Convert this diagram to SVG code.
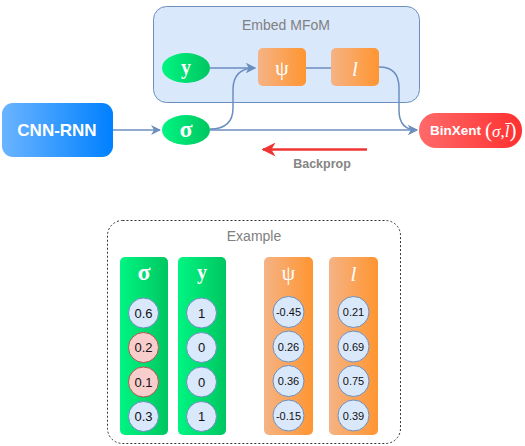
<svg xmlns="http://www.w3.org/2000/svg" width="525" height="446" viewBox="0 0 525 446">
<defs>
<linearGradient id="gGreen" x1="0" y1="0" x2="1" y2="0"><stop offset="0" stop-color="#00f582"/><stop offset="1" stop-color="#00c660"/></linearGradient>
<linearGradient id="gOrange" x1="0" y1="0" x2="1" y2="0"><stop offset="0" stop-color="#f5b385"/><stop offset="1" stop-color="#ff9530"/></linearGradient>
<linearGradient id="gBlue" x1="0" y1="0" x2="1" y2="0"><stop offset="0" stop-color="#6ab4ff"/><stop offset="1" stop-color="#0080ff"/></linearGradient>
<linearGradient id="gRed" x1="0" y1="0" x2="1" y2="0"><stop offset="0" stop-color="#ff6a6a"/><stop offset="1" stop-color="#ff3030"/></linearGradient>
<marker id="arrB" viewBox="0 0 10 10" refX="9" refY="5" markerWidth="10" markerHeight="10" markerUnits="userSpaceOnUse" orient="auto"><path d="M0,0 L10,5 L0,10 L3,5 Z" fill="#6c8ebf"/></marker>
<marker id="arrR" viewBox="0 0 10 10" refX="9" refY="5" markerWidth="14" markerHeight="14" markerUnits="userSpaceOnUse" orient="auto"><path d="M0,0 L10,5 L0,10 L3,5 Z" fill="#f03434"/></marker>
</defs>
<style>
.lbl{font-family:"Liberation Sans",Arial,sans-serif;fill:#808080;font-size:14px;text-anchor:middle}
.wb{font-family:"Liberation Sans",Arial,sans-serif;fill:#fff;font-weight:bold;text-anchor:middle}
.gr{font-family:"Liberation Serif","DejaVu Serif",serif;fill:#fff;text-anchor:middle}
.edge{fill:none;stroke:#6c8ebf;stroke-width:1.5}
.cb{fill:#dae8fc;stroke:#6c8ebf;stroke-width:1}
.cr{fill:#f8cecc;stroke:#b85450;stroke-width:1}
.num{font-family:"Liberation Sans",Arial,sans-serif;fill:#111;font-size:13px;text-anchor:middle}
.num2{font-family:"Liberation Sans",Arial,sans-serif;fill:#111;font-size:11px;text-anchor:middle}
</style>
<g id="embed-mfom">
<rect x="153.5" y="6.5" width="266" height="96" rx="13" fill="#dae8fc" stroke="#6c8ebf" stroke-width="1"/>
<text class="lbl" x="286" y="30">Embed MFoM</text>
</g>
<g id="connectors">
<path class="edge" d="M113,130 L160,130" marker-end="url(#arrB)"/>
<path class="edge" d="M210,68 L255,68" marker-end="url(#arrB)"/>
<path class="edge" d="M210,129 Q233,129 233,108 L233,90 Q233,68 255,68" marker-end="url(#arrB)"/>
<path class="edge" d="M305,68 L331,68"/>
<path class="edge" d="M210,130 L417,130" marker-end="url(#arrB)"/>
<path class="edge" d="M379,67 Q399,67 399,88 L399,110 Q399,130 417,130" marker-end="url(#arrB)"/>
<path d="M367,149.5 L263,149.5" fill="none" stroke="#f03434" stroke-width="2.5" marker-end="url(#arrR)"/>
<text x="322" y="168" font-family="Liberation Sans,Arial,sans-serif" font-size="12.5" font-weight="bold" fill="#858585" text-anchor="middle">Backprop</text>
</g>
<g id="cnn-rnn">
<rect x="2" y="103" width="111" height="54" rx="11" fill="url(#gBlue)"/>
<text class="wb" x="57" y="136" font-size="17">CNN-RNN</text>
</g>
<g id="node-y">
<ellipse cx="186" cy="68" rx="24" ry="15" fill="url(#gGreen)"/>
<text class="gr" x="186" y="74" font-size="20" font-weight="bold">y</text>
</g>
<g id="node-sigma">
<ellipse cx="186" cy="130" rx="24" ry="15" fill="url(#gGreen)"/>
<text class="gr" x="186" y="137" font-size="24" font-weight="bold">σ</text>
</g>
<g id="node-psi">
<rect x="258" y="48" width="48" height="38" rx="5" fill="url(#gOrange)"/>
<text class="gr" x="282" y="75" font-size="22">ψ</text>
</g>
<g id="node-l">
<rect x="331" y="48" width="48" height="38" rx="5" fill="url(#gOrange)"/>
<text class="gr" x="355" y="76" font-size="21" font-style="italic">l</text>
</g>
<g id="binxent">
<rect x="419" y="113" width="103" height="35" rx="17" fill="url(#gRed)"/>
<text class="wb" x="430" y="135" font-size="13.5" style="text-anchor:start">BinXent</text>
<text x="485" y="136.5" font-family="Liberation Serif,serif" font-size="17" fill="#fff"><tspan font-size="21">(</tspan><tspan font-style="italic">σ</tspan>,<tspan font-style="italic">l̄</tspan><tspan font-size="21">)</tspan></text>
</g>
<g id="example">
<rect x="107.5" y="220.5" width="293" height="223" rx="15" fill="none" stroke="#333" stroke-width="1" stroke-dasharray="2 2"/>
<text class="lbl" x="254" y="241">Example</text>
</g>
<g id="col-sigma">
<rect x="120" y="257" width="48" height="178" rx="5" fill="url(#gGreen)"/>
<text class="gr" x="144" y="280" font-size="24" font-weight="bold">σ</text>
<circle class="cb" cx="143.5" cy="313" r="15"/><text class="num" x="143.5" y="317.5">0.6</text>
<circle class="cr" cx="143.5" cy="347.5" r="15"/><text class="num" x="143.5" y="352">0.2</text>
<circle class="cr" cx="143.5" cy="382" r="15"/><text class="num" x="143.5" y="386.5">0.1</text>
<circle class="cb" cx="143.5" cy="416.5" r="15"/><text class="num" x="143.5" y="421">0.3</text>
</g>
<g id="col-y">
<rect x="178" y="257" width="48" height="178" rx="5" fill="url(#gGreen)"/>
<text class="gr" x="202" y="279" font-size="20" font-weight="bold">y</text>
<circle class="cb" cx="201.5" cy="313" r="15"/><text class="num" x="201.5" y="317.5">1</text>
<circle class="cb" cx="201.5" cy="347.5" r="15"/><text class="num" x="201.5" y="352">0</text>
<circle class="cb" cx="201.5" cy="382" r="15"/><text class="num" x="201.5" y="386.5">0</text>
<circle class="cb" cx="201.5" cy="416.5" r="15"/><text class="num" x="201.5" y="421">1</text>
</g>
<g id="col-psi">
<rect x="264" y="257" width="49" height="178" rx="5" fill="url(#gOrange)"/>
<text class="gr" x="288.5" y="280" font-size="22">ψ</text>
<circle class="cb" cx="288.5" cy="312" r="15.5"/><text class="num2" x="288.5" y="316">-0.45</text>
<circle class="cb" cx="288.5" cy="346.5" r="15.5"/><text class="num2" x="288.5" y="350.5">0.26</text>
<circle class="cb" cx="288.5" cy="381" r="15.5"/><text class="num2" x="288.5" y="385">0.36</text>
<circle class="cb" cx="288.5" cy="415.5" r="15.5"/><text class="num2" x="288.5" y="419.5">-0.15</text>
</g>
<g id="col-l">
<rect x="329" y="257" width="49" height="178" rx="5" fill="url(#gOrange)"/>
<text class="gr" x="353.5" y="281" font-size="21" font-style="italic">l</text>
<circle class="cb" cx="353.5" cy="312" r="15.5"/><text class="num2" x="353.5" y="316">0.21</text>
<circle class="cb" cx="353.5" cy="346.5" r="15.5"/><text class="num2" x="353.5" y="350.5">0.69</text>
<circle class="cb" cx="353.5" cy="381" r="15.5"/><text class="num2" x="353.5" y="385">0.75</text>
<circle class="cb" cx="353.5" cy="415.5" r="15.5"/><text class="num2" x="353.5" y="419.5">0.39</text>
</g>
</svg>
